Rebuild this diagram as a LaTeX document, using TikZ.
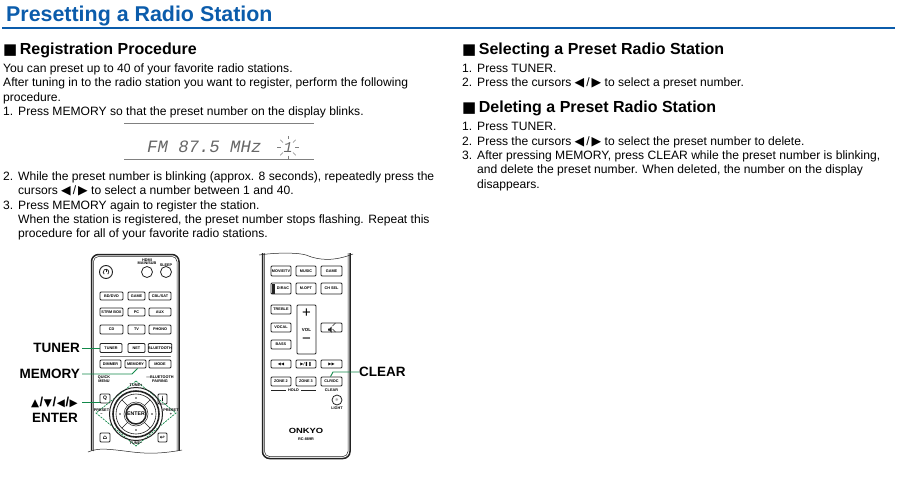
\documentclass[tikz,border=0pt]{standalone}
\usepackage{fontspec}
\setmainfont{Liberation Sans}
\newfontfamily\symf{DejaVu Sans}
\newfontfamily\monof{Liberation Mono}
\definecolor{titleblue}{HTML}{0B5CAB}
\definecolor{callgreen}{HTML}{12894A}
\definecolor{rem}{HTML}{222222}
\tikzset{
  tl/.style={anchor=base west,inner sep=0pt,font=\fontsize{12.1}{12}\selectfont},
  hd/.style={anchor=base west,inner sep=0pt,font=\fontsize{16}{16}\selectfont\bfseries},
  call/.style={inner sep=0pt,font=\fontsize{13.5}{14}\selectfont\bfseries},
  callline/.style={draw=callgreen,line width=0.9pt},
  btn/.style={draw=rem,line width=0.8pt,rounded corners=1pt,inner sep=0pt,font=\fontsize{3.8}{4}\selectfont\bfseries},
  tiny/.style={inner sep=0pt,align=center,font=\fontsize{3.8}{4}\selectfont\bfseries},
  body/.style={draw=rem,line width=1.5pt},
  bodyin/.style={draw=rem,line width=0.5pt},
}
\newcommand{\tln}[4]{\node[tl] (#1) at (#2,#3) {#4};}
\newcommand{\hdn}[4]{\node[hd] (#1) at (#2,#3) {{\symf\fontsize{15}{14}\selectfont ■}\hspace{2.5pt}#4};}
\newcommand{\bt}[6]{\node[btn,minimum width={(#4-#2)*1pt},minimum height={(#5-#3)*1pt}] (#1) at ({(#2+#4)/2},{(#3+#5)/2}) {#6};}
\newcommand{\tny}[4]{\node[tiny] (#1) at (#2,#3) {#4};}
\newcommand{\LR}{{\symf\fontsize{12.5}{10}\selectfont ◀}\,/\,{\symf\fontsize{12.5}{10}\selectfont ▶}}
\begin{document}
\begin{tikzpicture}[x=1pt,y=-1pt]
\useasboundingbox (0,0) rectangle (903,498);
% title
\node[anchor=base west,inner sep=0pt,text=titleblue,font=\fontsize{21.4}{22}\selectfont\bfseries] (title) at (6,21) {Presetting a Radio Station};
\coordinate (ruleL) at (2,28); \coordinate (ruleR) at (895,28);
\draw[titleblue,line width=1.3pt] (ruleL) -- (ruleR);
% left column
\hdn{h1}{3}{54}{Registration Procedure}
\tln{a1}{3}{72}{You can preset up to 40 of your favorite radio stations.}
\tln{a2}{3}{86}{After tuning in to the radio station you want to register, perform the following}
\tln{a3}{3}{101}{procedure.}
\tln{a4}{3}{115}{1.}
\tln{a4b}{18}{115}{Press MEMORY so that the preset number on the display blinks.}
\tln{b1}{3}{180}{2.}
\tln{b1b}{18}{180}{While the preset number is blinking (approx. 8 seconds), repeatedly press the}
\tln{b2}{18}{194}{cursors \LR\ to select a number between 1 and 40.}
\tln{b3}{3}{209}{3.}
\tln{b3b}{18}{209}{Press MEMORY again to register the station.}
\tln{b4}{18}{223}{When the station is registered, the preset number stops flashing. Repeat this}
\tln{b5}{18}{237}{procedure for all of your favorite radio stations.}
% right column
\hdn{h2}{462}{54}{Selecting a Preset Radio Station}
\tln{c1}{462}{72}{1.}
\tln{c1b}{477}{72}{Press TUNER.}
\tln{c2}{462}{86}{2.}
\tln{c2b}{477}{86}{Press the cursors \LR\ to select a preset number.}
\hdn{h3}{462}{112}{Deleting a Preset Radio Station}
\tln{d1}{462}{130}{1.}
\tln{d1b}{477}{130}{Press TUNER.}
\tln{d2}{462}{145}{2.}
\tln{d2b}{477}{145}{Press the cursors \LR\ to select the preset number to delete.}
\tln{d3}{462}{159}{3.}
\tln{d3b}{477}{159}{After pressing MEMORY, press CLEAR while the preset number is blinking,}
\tln{d4}{477}{173}{and delete the preset number. When deleted, the number on the display}
\tln{d5}{477}{188}{disappears.}
% display
\coordinate (dA) at (124,123); \coordinate (dB) at (314,123);
\coordinate (dC) at (124,159); \coordinate (dD) at (314,159);
\draw[gray,line width=0.8pt] (dA) -- (dB);
\draw[gray,line width=0.8pt] (dC) -- (dD);
\node[anchor=base west,inner sep=0pt,text=black!60,font=\fontsize{17.3}{16}\monof\itshape\selectfont] (disp) at (147,152.5) {FM 87.5 MHz};
\node[anchor=base,inner sep=0pt,text=black!60,font=\fontsize{15}{16}\monof\itshape\selectfont] (dispn) at (288,152.5) {1};
\foreach \a in {0,45,135,180,225,315}
  \draw[gray,line width=0.5pt] (dispn.center) ++(\a:7) -- ++(\a:4);
\draw[gray,line width=0.5pt] (dispn.center) ++(90:-9) -- ++(90:-3);
\draw[gray,line width=0.5pt] (dispn.center) ++(90:8) -- ++(90:3);
% ===== remote 1
\draw[body,rounded corners=7pt] (91.5,450.5) -- (91.5,254.5) -- (179,254.5) -- (179,450.5);
\draw[bodyin,rounded corners=5pt] (93.5,451) -- (93.5,256.5) -- (177,256.5) -- (177,451);
\draw[bodyin] (88,452) .. controls (98,448) and (105,449) .. (116,450) .. controls (135,452) and (150,456) .. (182,450);
\node[btn,circle,minimum size=13pt,line width=0.9pt] (pwr) at (106,272) {};
\draw[rem,line width=0.7pt] (pwr.center) ++(50:2.8) arc (50:-230:2.8);
\draw[rem,line width=0.7pt] (pwr.center) -- ++(0,-3.5);
\node[btn,circle,minimum size=11pt] (hdmi) at (147,272) {};
\node[btn,circle,minimum size=11pt] (sleep) at (166,272) {};
\tny{lhd}{147}{262}{HDMI\\[-0.6pt]MAIN/SUB}
\tny{lsl}{166}{265}{SLEEP}
\bt{r1a}{100}{292}{123}{300}{BD/DVD}
\bt{r1b}{128}{292}{145}{300}{GAME}
\bt{r1c}{149}{292}{171}{300}{CBL/SAT}
\bt{r2a}{100}{308}{123}{316}{STRM BOX}
\bt{r2b}{128}{308}{145}{316}{PC}
\bt{r2c}{149}{308}{171}{316}{AUX}
\bt{r3a}{100}{325}{123}{334}{CD}
\bt{r3b}{128}{325}{145}{334}{TV}
\bt{r3c}{149}{325}{171}{334}{PHONO}
\bt{tunerb}{100}{343.5}{122}{352.5}{TUNER}
\bt{r4b}{128}{343.5}{145}{352.5}{NET}
\bt{r4c}{149}{343.5}{171}{352.5}{BLUETOOTH}
\coordinate (sepL) at (100,356.5); \coordinate (sepR) at (171,356.5);
\draw[gray,line width=0.8pt] (sepL) -- (sepR);
\bt{r5a}{100}{360}{121}{368}{DIMMER}
\bt{memb}{125}{360}{146}{368}{MEMORY}
\bt{r5c}{149}{360}{171}{368}{MODE}
\tny{lqm}{104}{379}{QUICK\\[-0.6pt]MENU}
\tny{lbt}{160}{379}{―BLUETOOTH\\[-0.6pt]PAIRING}
\bt{qb}{100}{394}{110}{403}{\fontsize{5}{5}\selectfont Q}
\bt{ib}{158}{394}{167}{404}{\fontsize{7}{7}\selectfont i}
\bt{hb}{100}{433}{110}{442}{\fontsize{6}{6}\selectfont\symf ⌂}
\bt{rb}{158}{433}{167}{442}{\fontsize{6}{6}\selectfont\symf ↩}
% wheel
\coordinate (dT) at (136,381); \coordinate (dR) at (176,413); \coordinate (dBt) at (136,446); \coordinate (dL) at (96,413);
\draw[callgreen,dash pattern=on 2pt off 1pt,line width=0.7pt] (dT) -- (dR) -- (dBt) -- (dL) -- cycle;
\node[circle,draw=rem,line width=1pt,minimum size=53pt,inner sep=0pt] (wh) at (136,414) {};
\draw[rem,line width=1.6pt] (wh.center) circle (23);
\draw[rem,line width=0.6pt] (wh.center) circle (20);
\foreach \a in {45,135,225,315} \draw[rem,line width=0.6pt] (wh.center) ++(\a:11) -- ++(\a:9);
\node[btn,circle,minimum size=20pt,line width=1.5pt,font=\fontsize{5.2}{5}\selectfont\bfseries] (enter) at (136,414) {ENTER};
\draw[rem,line width=0.5pt] (wh.center) circle (12);
\tny{ltp}{136}{385}{TUNE+}
\tny{ltm}{136}{443.5}{TUNE−}
\tny{lpm}{101.5}{412}{PRESET\\[-0.6pt]−}
\tny{lpp}{171}{412}{PRESET\\[-0.6pt]+}
\foreach \a in {0,90,180,270} \fill[rem] (wh.center) ++(\a:16) circle (0.8);
% labels remote 1
\node[call,anchor=east] (ltuner) at (80,348) {TUNER};
\node[call,anchor=east] (lmem) at (80,374) {MEMORY};
\node[call,anchor=east,font=\fontsize{13}{13}\selectfont\bfseries] (lcur) at (78,402) {{\symf\fontsize{10.5}{10}\selectfont ▲}\kern0.6pt/\kern0.6pt{\symf\fontsize{10.5}{10}\selectfont ▼}\kern0.6pt/\kern0.6pt{\symf\fontsize{10.5}{10}\selectfont ◀}\kern0.6pt/\kern0.6pt{\symf\fontsize{10.5}{10}\selectfont ▶}};
\node[call,anchor=east] (lent) at (78,418) {ENTER};
\coordinate (curEnd) at (100,402);
\coordinate (memBend) at (132,374);
\draw[callline] ([xshift=2pt]ltuner.east) -- (tunerb.west);
\draw[callline] ([xshift=2pt]lmem.east) -- (memBend) -- ([xshift=2pt]memb.south);
\draw[callline] ([xshift=4pt]lcur.east) -- (curEnd);
% ===== remote 2
\draw[body,rounded corners=7pt] (262.5,253) -- (262.5,458.5) -- (350,458.5) -- (350,253);
\draw[bodyin,rounded corners=5pt] (264.5,253) -- (264.5,456.5) -- (348,456.5) -- (348,253);
\fill[white] (258,245) rectangle (356,253);
\draw[bodyin] (259,255) .. controls (280,252) and (300,253) .. (306,255) .. controls (320,261) and (335,261) .. (353,254);
\bt{sa}{271}{266}{291}{276}{MOVIE/TV}
\bt{sb}{296}{266}{316}{276}{MUSIC}
\bt{sc}{321}{266}{342}{276}{GAME}
\bt{ta}{271}{283}{291}{294}{\hspace*{4pt}DIRAC}
\fill[rem] (271.5,283.5) rectangle (275,293.5);
\bt{tb}{296}{283}{316}{294}{M.OPT}
\bt{tc}{321}{283}{342}{294}{CH SEL}
\bt{tre}{271}{305}{291}{314}{TREBLE}
\bt{voc}{271}{323}{291}{332}{VOCAL}
\bt{bas}{271}{340}{291}{349}{BASS}
\bt{vol}{297}{305}{316}{354}{\fontsize{4.4}{5}\selectfont VOL}
\node[inner sep=0pt,font=\fontsize{15}{15}\selectfont] (vp) at (306.5,313) {+};
\node[inner sep=0pt,font=\fontsize{15}{15}\selectfont] (vm) at (306.5,341) {−};
\bt{mute}{321}{323}{342}{332}{}
\fill[rem] ([xshift=-3.5pt,yshift=-1pt]mute.center) -- ++(1.5,0) -- ++(2,-2) -- ++(0,6) -- ++(-2,-2) -- ++(-1.5,0) -- cycle;
\draw[rem,line width=0.4pt] ([xshift=1pt,yshift=-1.5pt]mute.center) -- ++(3,3);
\draw[rem,line width=0.4pt] ([xshift=1pt,yshift=1.5pt]mute.center) -- ++(3,-3);
\bt{ua}{271}{360}{291}{368}{\fontsize{4}{4}\symf ◀◀}
\bt{ub}{296}{360}{316}{368}{\fontsize{4}{4}\symf ▶/❚❚}
\bt{uc}{321}{360}{342}{368}{\fontsize{4}{4}\symf ▶▶}
\bt{za}{271}{377}{291}{386}{ZONE 2}
\bt{zb}{296}{377}{316}{386}{ZONE 3}
\bt{clrb}{321}{377}{342}{386}{CLR/DC}
\tny{lhold}{293.5}{390}{HOLD}
\coordinate (hl) at (271,390); \coordinate (hr) at (316,390);
\draw[rem,line width=0.4pt] (hl) -- ([xshift=-2pt]lhold.west);
\draw[rem,line width=0.4pt] ([xshift=2pt]lhold.east) -- (hr);
\tny{lclr}{331.5}{390}{CLEAR}
\node[btn,circle,minimum size=10pt] (light) at (337,400) {\fontsize{4}{4}\selectfont\symf ☼};
\tny{lli}{337}{408}{LIGHT}
\node[inner sep=0pt,xscale=1.25,font=\fontsize{7.5}{7}\selectfont\bfseries] (onk) at (306,431) {ONKYO};
\tny{lrc}{306}{439}{RC-889R}
\node[call,anchor=west] (lclear) at (359,372) {CLEAR};
\coordinate (clrBend) at (333,372);
\draw[callline] (lclear.west) -- (clrBend) -- ([xshift=-1pt]clrb.north);
\end{tikzpicture}
\end{document}
